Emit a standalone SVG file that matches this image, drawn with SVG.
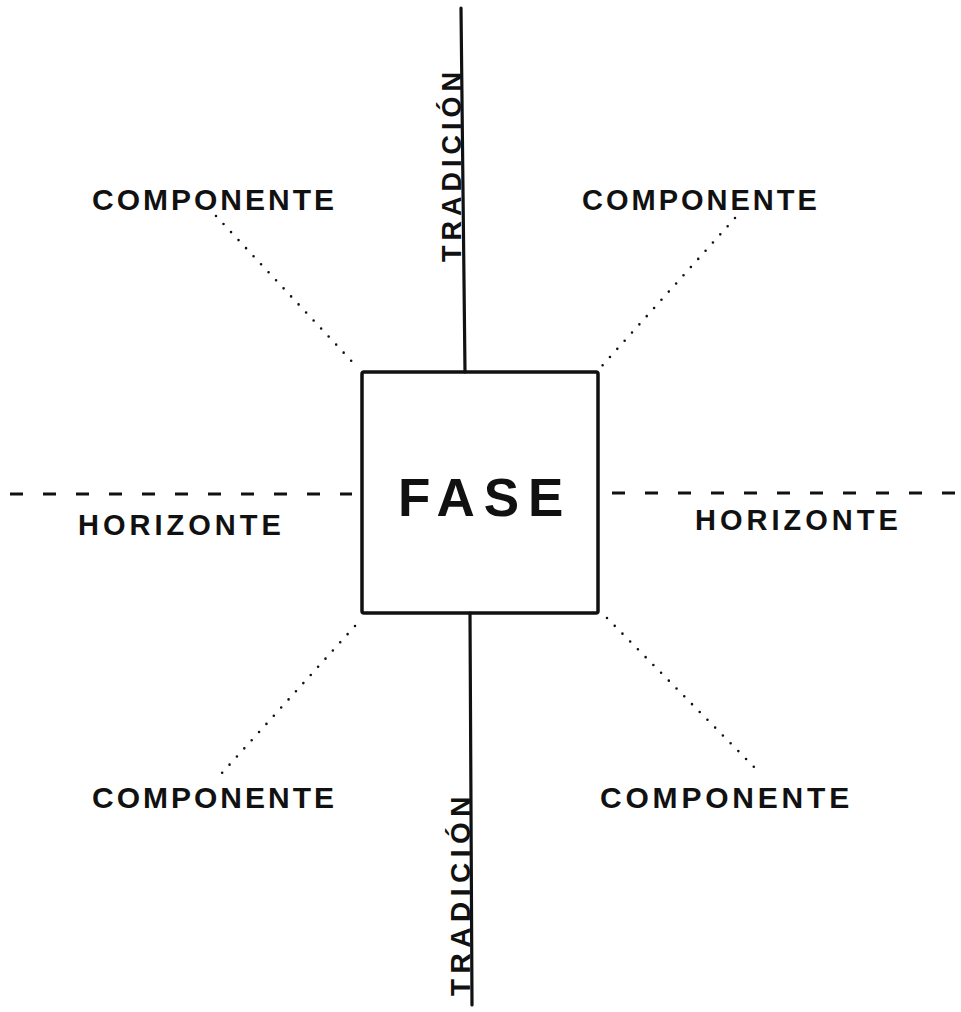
<svg xmlns="http://www.w3.org/2000/svg" width="961" height="1012" viewBox="0 0 961 1012">
<style>
.t{font-family:"Liberation Sans",Arial,sans-serif;font-weight:bold;fill:#111}
.lbl{font-size:30px;letter-spacing:3px}
.hz{font-size:29px;letter-spacing:4px}
.tr{font-size:27px;letter-spacing:5px}
.solid{stroke:#111;stroke-width:3.2;fill:none;stroke-linecap:round}
.dash{stroke:#111;stroke-width:3;fill:none;stroke-dasharray:13 20}
.dot{stroke:#111;stroke-width:2.6;fill:none;stroke-linecap:round;stroke-dasharray:0 11}
</style>
<rect width="961" height="1012" fill="#fff"/>
<g id="connectors">
  <path class="solid" d="M461,8 L465,372"/>
  <path class="solid" d="M470,613 L472,1005"/>
  <path class="dash" d="M10,494 L352,494"/>
  <path class="dash" d="M612,493 L958,493"/>
  <path class="dot" d="M216,216 L358,368"/>
  <path class="dot" d="M735,218 L601,367"/>
  <path class="dot" d="M355,626 L222,773"/>
  <path class="dot" d="M607,618 L755,768"/>
</g>
<g id="fase">
  <rect x="362" y="372" width="236" height="241" fill="none" stroke="#111" stroke-width="3.5" rx="2"/>
  <text class="t" x="398" y="516" style="font-size:53px;letter-spacing:9px">FASE</text>
</g>
<g id="tradicion-top">
  <text class="t tr" transform="translate(461,262) rotate(-90)">TRADICIÓN</text>
</g>
<g id="tradicion-bottom">
  <text class="t tr" transform="translate(470,996) rotate(-90)" style="font-size:28px;letter-spacing:5.5px">TRADICIÓN</text>
</g>
<g id="horizonte-left">
  <text class="t hz" x="78" y="535">HORIZONTE</text>
</g>
<g id="horizonte-right">
  <text class="t hz" x="695" y="530">HORIZONTE</text>
</g>
<g id="componente-tl">
  <text class="t lbl" x="92" y="210">COMPONENTE</text>
</g>
<g id="componente-tr">
  <text class="t lbl" x="582" y="210" style="font-size:29px">COMPONENTE</text>
</g>
<g id="componente-bl">
  <text class="t lbl" x="92" y="808">COMPONENTE</text>
</g>
<g id="componente-br">
  <text class="t lbl" x="600" y="808" style="letter-spacing:3.8px">COMPONENTE</text>
</g>
</svg>
